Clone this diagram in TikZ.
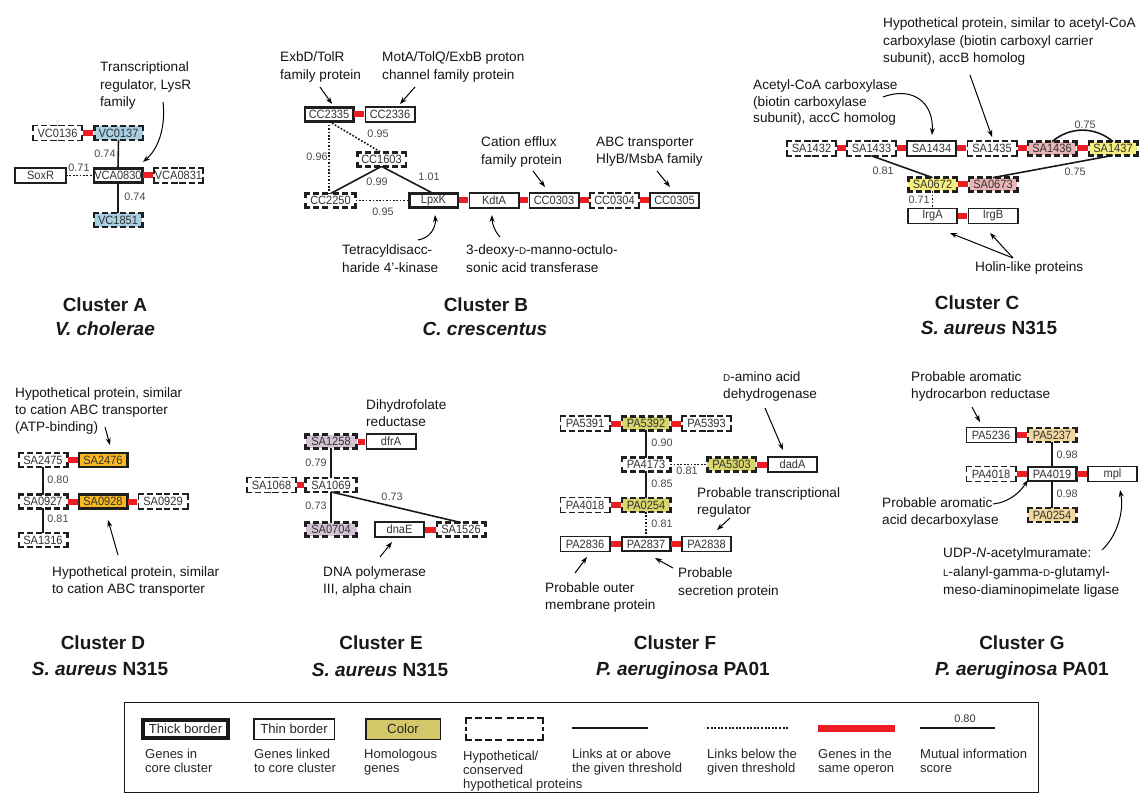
\documentclass[tikz,border=0pt]{standalone}
\usepackage{fontspec}
\setmainfont{Liberation Sans}
\newfontfamily\condf{Liberation Sans}[FakeStretch=0.92]
\usetikzlibrary{arrows.meta,calc}
\definecolor{opred}{HTML}{EE1C25}
\definecolor{cblue}{HTML}{A8CFE2}
\definecolor{cpink}{HTML}{E8B4B6}
\definecolor{cyel}{HTML}{F6EE7E}
\definecolor{corange}{HTML}{F8B820}
\definecolor{clilac}{HTML}{D5C2D3}
\definecolor{colive}{HTML}{D8D66C}
\definecolor{ctan}{HTML}{F2D7A0}
\definecolor{clegend}{HTML}{D5C86A}
\definecolor{txtgray}{HTML}{333333}
\newcommand\fsc[1]{{\fontsize{9.8}{10}\selectfont #1}}
\newcommand\hypsides[2]{%
  \draw[#2] (#1.north west) -- (#1.north) (#1.north east) -- (#1.north)
    (#1.south west) -- (#1.south) (#1.south east) -- (#1.south)
    (#1.north west) -- (#1.west) (#1.south west) -- (#1.west)
    (#1.north east) -- (#1.east) (#1.south east) -- (#1.east);}
\newcommand\hk[1]{\hypsides{#1}{hypkline}}
\newcommand\hn[1]{\hypsides{#1}{hypnline}}
\begin{document}
\begin{tikzpicture}[x=1pt,y=-1pt,
  gene/.style={rectangle, inner sep=0pt, outer sep=0pt, font=\condf\fontsize{12}{13}\selectfont, text=txtgray},
  core/.style={gene, draw=black!88, line width=2.5pt, minimum width=48.5pt, minimum height=13.8pt},
  lnk/.style={gene, draw=black!88, line width=1.6pt, minimum width=49.4pt, minimum height=14.7pt},
  hypk/.style={gene, minimum width=48.5pt, minimum height=13.8pt},
  hypn/.style={gene, minimum width=49.4pt, minimum height=14.7pt},
  hypkline/.style={draw=black!88, line width=2.5pt, line cap=rect, dash pattern=on 3.5pt off 5.5pt},
  hypnline/.style={draw=black!88, line width=1.6pt, line cap=rect, dash pattern=on 4.6pt off 4.6pt},
  opbar/.style={draw=opred, line width=6pt, shorten <=1.2pt, shorten >=1.2pt},
  mival/.style={draw=black!90, line width=1.6pt},
  weakval/.style={draw=black!90, line width=1.6pt, dash pattern=on 1.7pt off 1.7pt},
  score/.style={font=\fontsize{10.8}{11}\selectfont, text=black!72, inner sep=0pt},
  annot/.style={font=\fontsize{13.6}{17.5}\selectfont, align=left, anchor=north west, inner sep=0pt, text=black!92},
  tarrow/.style={-{Stealth[length=7pt,width=5pt]}, line width=1pt},
  ctitle/.style={font=\bfseries\fontsize{19}{20}\selectfont, anchor=base, inner sep=0pt, text=black!90},
  legtxt/.style={font=\fontsize{13}{14}\selectfont, align=left, anchor=north west, inner sep=0pt, text=black!85},
  legbox/.style={rectangle, inner sep=0pt, font=\fontsize{13.2}{14}\selectfont, text=black!85}
]
\useasboundingbox (0,0) rectangle (1140,794);

% ===================== Cluster A
\node[hypn] (VC0136) at (57.5,133) {VC0136};
\node[hypk, fill=cblue] (VC0137) at (118.5,133) {VC0137};
\node[lnk, minimum width=51pt] (SoxR) at (40.5,175.5) {SoxR};
\node[core] (VCA0830) at (118,175.5) {VCA0830};
\node[hypn] (VCA0831) at (178.5,175.5) {VCA0831};
\node[hypk, fill=cblue] (VC1851) at (118,220) {VC1851};
\hn{VC0136}\hk{VC0137}\hn{VCA0831}\hk{VC1851}
\draw[opbar] (VC0136) -- (VC0137);
\draw[opbar] (VCA0830) -- (VCA0831);
\draw[mival] (VC0137.south) -- (VCA0830.north);
\draw[weakval] (SoxR) -- (VCA0830);
\draw[mival] (VCA0830.south) -- (VC1851.north);
\node[score] (sA1) at (105,154) {0.74};
\node[score] (sA2) at (79,168) {0.71};
\node[score] (sA3) at (135,197) {0.74};
\node[annot] (annA) at (100,61.5) {Transcriptional\\regulator, LysR\\family};
\coordinate (aA1) at (163,102); \coordinate (aA2) at (143,162);
\draw[tarrow] (aA1) .. controls (166,130) and (157,150) .. (aA2);
\node[ctitle] (tA1) at (105,311) {Cluster A};
\node[ctitle] (tA2) at (105,335) {\itshape V. cholerae};

% ===================== Cluster B
\node[core] (CC2335) at (329,114.5) {CC2335};
\node[lnk] (CC2336) at (390,114.5) {CC2336};
\node[hypk] (CC1603) at (381.5,159.5) {CC1603};
\node[hypk, minimum width=50pt] (CC2250) at (330.5,200.5) {CC2250};
\node[core] (LpxK) at (433.5,200.5) {LpxK};
\node[lnk] (KdtA) at (494,200.5) {KdtA};
\node[lnk] (CC0303) at (554,200.5) {CC0303};
\node[hypn] (CC0304) at (614.5,200.5) {CC0304};
\node[lnk] (CC0305) at (674.5,200.5) {CC0305};
\hk{CC1603}\hk{CC2250}\hn{CC0304}
\draw[opbar] (CC2335) -- (CC2336);
\draw[opbar] (LpxK) -- (KdtA);
\draw[opbar] (KdtA) -- (CC0303);
\draw[opbar] (CC0303) -- (CC0304);
\draw[opbar] (CC0304) -- (CC0305);
\draw[weakval] (CC2335.south) -- (CC2335.south |- CC2250.north);
\draw[weakval] (CC2335.south) -- (CC1603.north);
\draw[mival] (CC1603.south) -- (CC2250.north);
\draw[mival] (CC1603.south) -- (LpxK.north);
\draw[weakval] (CC2250) -- (LpxK);
\node[score] (sB1) at (317,157) {0.96};
\node[score] (sB2) at (378,134) {0.95};
\node[score] (sB3) at (377,182) {0.99};
\node[score] (sB4) at (429,177) {1.01};
\node[score] (sB5) at (383,212) {0.95};
\node[annot] (annB1) at (280,51.5) {ExbD/TolR\\family protein};
\node[annot] (annB2) at (382,51.5) {MotA/TolQ/ExbB proton\\channel family protein};
\node[annot] (annB3) at (481,136.5) {Cation efflux\\family protein};
\node[annot] (annB4) at (596,136.5) {ABC transporter\\HlyB/MsbA family};
\node[annot] (annB5) at (342,244.5) {Tetracyldisacc-\\haride 4'-kinase};
\node[annot] (annB6) at (466,244.5) {3-deoxy-\fsc{D}-manno-octulo-\\sonic acid transferase};
\coordinate (aB1a) at (320,87); \coordinate (aB1b) at (332,104);
\coordinate (aB2a) at (415,87); \coordinate (aB2b) at (400,104);
\coordinate (aB3a) at (533,171); \coordinate (aB3b) at (545,187);
\coordinate (aB4a) at (657,171); \coordinate (aB4b) at (670,187);
\coordinate (aB5a) at (418,240); \coordinate (aB5b) at (435,215);
\coordinate (aB6a) at (500,237); \coordinate (aB6b) at (492,215);
\draw[tarrow] (aB1a) -- (aB1b);
\draw[tarrow] (aB2a) -- (aB2b);
\draw[tarrow] (aB3a) -- (aB3b);
\draw[tarrow] (aB4a) -- (aB4b);
\draw[tarrow] (aB5a) .. controls (430,238) and (436,228) .. (aB5b);
\draw[tarrow] (aB6a) .. controls (495,232) and (492,223) .. (aB6b);
\node[ctitle] (tB1) at (486,311) {Cluster B};
\node[ctitle] (tB2) at (485,335) {\itshape C. crescentus};

% ===================== Cluster C
\node[hypn] (SA1432) at (811.5,148.5) {SA1432};
\node[hypn] (SA1433) at (871.5,148.5) {SA1433};
\node[lnk] (SA1434) at (931.5,148.5) {SA1434};
\node[hypn] (SA1435) at (992,148.5) {SA1435};
\node[hypk, fill=cpink] (SA1436) at (1052,148.5) {SA1436};
\node[hypk, fill=cyel] (SA1437) at (1113,148.5) {SA1437};
\node[hypk, fill=cyel] (SA0672) at (932.5,184.5) {SA0672};
\node[hypk, fill=cpink] (SA0673) at (993,184.5) {SA0673};
\node[lnk] (IrgA) at (932.5,216) {IrgA};
\node[lnk] (IrgB) at (993,216) {IrgB};
\hn{SA1432}\hn{SA1433}\hn{SA1435}\hk{SA1436}\hk{SA1437}\hk{SA0672}\hk{SA0673}
\draw[opbar] (SA1432) -- (SA1433);
\draw[opbar] (SA1433) -- (SA1434);
\draw[opbar] (SA1434) -- (SA1435);
\draw[opbar] (SA1435) -- (SA1436);
\draw[opbar] (SA1436) -- (SA1437);
\draw[opbar] (SA0672) -- (SA0673);
\draw[opbar] (IrgA) -- (IrgB);
\draw[mival] (SA1433.south) -- (SA0672.north);
\draw[mival] (SA1437.south) -- (SA0673.north);
\draw[mival] (SA1436.north) to[bend left=40] (SA1437.north);
\draw[weakval] (SA0672.south) -- (IrgA.north);
\node[score] (sC1) at (1085,125) {0.75};
\node[score] (sC2) at (883,171) {0.81};
\node[score] (sC3) at (1075,172) {0.75};
\node[score] (sC4) at (919,200) {0.71};
\node[annot] (annC1) at (883,17.5) {Hypothetical protein, similar to acetyl-CoA\\carboxylase (biotin carboxyl carrier\\subunit), accB homolog};
\node[annot, font=\fontsize{13.6}{16.5}\selectfont] (annC2) at (753,79.5) {Acetyl-CoA carboxylase\\(biotin carboxylase\\subunit), accC homolog};
\node[annot] (annC3) at (975,261.5) {Holin-like proteins};
\coordinate (aC1a) at (970,75); \coordinate (aC1b) at (992,137);
\coordinate (aC2a) at (883,97); \coordinate (aC2b) at (932,135);
\coordinate (aC3a) at (1013,258); \coordinate (aC3b) at (950,233); \coordinate (aC3c) at (990,233);
\draw[tarrow] (aC1a) -- (aC1b);
\draw[tarrow] (aC2a) .. controls (912,86) and (934,102) .. (aC2b);
\draw[tarrow] (aC3a) -- (aC3b);
\draw[tarrow] (aC3a) -- (aC3c);
\node[ctitle] (tC1) at (977,309) {Cluster C};
\node[ctitle] (tC2) at (989,334) {\itshape S. aureus\upshape\ N315};

% ===================== Cluster D
\node[hypk] (SA2475) at (43,460) {SA2475};
\node[core, fill=corange] (SA2476) at (103,460) {SA2476};
\node[hypk] (SA0927) at (43,501.5) {SA0927};
\node[core, fill=corange] (SA0928) at (103,501.5) {SA0928};
\node[hypn] (SA0929) at (163,501.5) {SA0929};
\node[hypk] (SA1316) at (43,540) {SA1316};
\hk{SA2475}\hk{SA0927}\hn{SA0929}\hk{SA1316}
\draw[opbar] (SA2475) -- (SA2476);
\draw[opbar] (SA0927) -- (SA0928);
\draw[opbar] (SA0928) -- (SA0929);
\draw[mival] (SA2475.south) -- (SA0927.north);
\draw[mival] (SA0927.south) -- (SA1316.north);
\node[score] (sD1) at (58,480) {0.80};
\node[score] (sD2) at (58,519) {0.81};
\node[annot, font=\fontsize{13.6}{17}\selectfont] (annD1) at (15,387.5) {Hypothetical protein, similar\\to cation ABC transporter\\(ATP-binding)};
\node[annot, font=\fontsize{13.6}{16.5}\selectfont] (annD2) at (52,566.5) {Hypothetical protein, similar\\to cation ABC transporter};
\coordinate (aD1a) at (105,427); \coordinate (aD1b) at (110,445);
\coordinate (aD2a) at (118,555); \coordinate (aD2b) at (108,520);
\draw[tarrow] (aD1a) -- (aD1b);
\draw[tarrow] (aD2a) -- (aD2b);
\node[ctitle] (tD1) at (103,649) {Cluster D};
\node[ctitle] (tD2) at (100,675) {\itshape S. aureus\upshape\ N315};

% ===================== Cluster E
\node[hypk, fill=clilac, minimum width=51pt] (SA1258) at (331,441.5) {SA1258};
\node[lnk] (dfrA) at (391,441.5) {dfrA};
\node[hypn] (SA1068) at (271.5,485) {SA1068};
\node[hypk, minimum width=51pt] (SA1069) at (331,485) {SA1069};
\node[hypk, fill=clilac, minimum width=51pt] (SA0704) at (331,529.5) {SA0704};
\node[lnk] (dnaE) at (399.5,529.5) {dnaE};
\node[hypk] (SA1526) at (461,529.5) {SA1526};
\hk{SA1258}\hn{SA1068}\hk{SA1069}\hk{SA0704}\hk{SA1526}
\draw[opbar] (SA1258) -- (dfrA);
\draw[opbar] (SA1068) -- (SA1069);
\draw[opbar] (dnaE) -- (SA1526);
\draw[mival] (SA1258.south) -- (SA1069.north);
\draw[mival] (SA1069.south) -- (SA0704.north);
\draw[mival] (SA1069.south) -- (SA1526.north);
\node[score] (sE1) at (316,463) {0.79};
\node[score] (sE2) at (316,506) {0.73};
\node[score] (sE3) at (392,497) {0.73};
\node[annot, font=\fontsize{13.6}{17}\selectfont] (annE1) at (366,399.5) {Dihydrofolate\\reductase};
\node[annot, font=\fontsize{13.6}{16.5}\selectfont] (annE2) at (323,566.5) {DNA polymerase\\III, alpha chain};
\coordinate (aE1a) at (380,557); \coordinate (aE1b) at (392,542);
\draw[tarrow] (aE1a) -- (aE1b);
\node[ctitle] (tE1) at (381,649) {Cluster E};
\node[ctitle] (tE2) at (380,676) {\itshape S. aureus\upshape\ N315};

% ===================== Cluster F
\node[hypn] (PA5391) at (585,423.5) {PA5391};
\node[hypk, fill=colive] (PA5392) at (646,423.5) {PA5392};
\node[hypn] (PA5393) at (706.5,423.5) {PA5393};
\node[hypk] (PA4173) at (646,464.5) {PA4173};
\node[hypk, fill=colive] (PA5303) at (731.5,464.5) {PA5303};
\node[lnk] (dadA) at (792.5,464.5) {dadA};
\node[hypn] (fPA4018) at (585,505) {PA4018};
\node[hypk, fill=colive] (fPA0254) at (646,505) {PA0254};
\node[lnk] (PA2836) at (585,544) {PA2836};
\node[core] (PA2837) at (646,544) {PA2837};
\node[lnk] (PA2838) at (706.5,544) {PA2838};
\hn{PA5391}\hk{PA5392}\hn{PA5393}\hk{PA4173}\hk{PA5303}\hn{fPA4018}\hk{fPA0254}
\draw[opbar] (PA5391) -- (PA5392);
\draw[opbar] (PA5392) -- (PA5393);
\draw[opbar] (PA5303) -- (dadA);
\draw[opbar] (fPA4018) -- (fPA0254);
\draw[opbar] (PA2836) -- (PA2837);
\draw[opbar] (PA2837) -- (PA2838);
\draw[mival] (PA5392.south) -- (PA4173.north);
\draw[weakval] (PA4173) -- (PA5303);
\draw[mival] (PA4173.south) -- (fPA0254.north);
\draw[weakval] (fPA0254.south) -- (PA2837.north);
\node[score] (sF1) at (662,443) {0.90};
\node[score] (sF2) at (687,471) {0.81};
\node[score] (sF3) at (662,484) {0.85};
\node[score] (sF4) at (662,524) {0.81};
\node[annot, font=\fontsize{13.6}{17}\selectfont] (annF1) at (723,371.5) {\fsc{D}-amino acid\\dehydrogenase};
\node[annot, font=\fontsize{13.6}{17}\selectfont] (annF2) at (697,487.5) {Probable transcriptional\\regulator};
\node[annot, font=\fontsize{13.6}{17}\selectfont] (annF3) at (545,582.5) {Probable outer\\membrane protein};
\node[annot, font=\fontsize{13.6}{17.5}\selectfont] (annF4) at (678,567.5) {Probable\\secretion protein};
\coordinate (aF1a) at (765,408); \coordinate (aF1b) at (783,450);
\coordinate (aF2a) at (730,518); \coordinate (aF2b) at (717,530);
\coordinate (aF3a) at (575,573); \coordinate (aF3b) at (587,557);
\coordinate (aF4a) at (673,568); \coordinate (aF4b) at (655,558);
\draw[tarrow] (aF1a) -- (aF1b);
\draw[tarrow] (aF2a) -- (aF2b);
\draw[tarrow] (aF3a) -- (aF3b);
\draw[tarrow] (aF4a) -- (aF4b);
\node[ctitle] (tF1) at (675,649) {Cluster F};
\node[ctitle] (tF2) at (683,675) {\itshape P. aeruginosa\upshape\ PA01};

% ===================== Cluster G
\node[lnk] (PA5236) at (991,435) {PA5236};
\node[hypk, fill=ctan] (PA5237) at (1052,435) {PA5237};
\node[hypn] (gPA4018) at (991,474) {PA4018};
\node[core] (PA4019) at (1052,474) {PA4019};
\node[lnk] (mpl) at (1112.5,474) {mpl};
\node[hypk, fill=ctan] (gPA0254) at (1052,515) {PA0254};
\hk{PA5237}\hn{gPA4018}\hk{gPA0254}
\draw[opbar] (PA5236) -- (PA5237);
\draw[opbar] (gPA4018) -- (PA4019);
\draw[opbar] (PA4019) -- (mpl);
\draw[mival] (PA5237.south) -- (PA4019.north);
\draw[mival] (PA4019.south) -- (gPA0254.north);
\node[score] (sG1) at (1067,455) {0.98};
\node[score] (sG2) at (1067,494) {0.98};
\node[annot, font=\fontsize{13.6}{17}\selectfont] (annG1) at (911,371.5) {Probable aromatic\\hydrocarbon reductase};
\node[annot, font=\fontsize{13.6}{17}\selectfont] (annG2) at (882,497.5) {Probable aromatic\\acid decarboxylase};
\node[annot, font=\fontsize{13.6}{18.5}\selectfont] (annG3) at (943,547.5) {UDP-\textit{N}-acetylmuramate:\\\fsc{L}-alanyl-gamma-\fsc{D}-glutamyl-\\meso-diaminopimelate ligase};
\coordinate (aG1a) at (972,407); \coordinate (aG1b) at (980,422);
\coordinate (aG2a) at (993,504); \coordinate (aG2b) at (1028,480);
\coordinate (aG3a) at (1102,550); \coordinate (aG3b) at (1120,490);
\draw[tarrow] (aG1a) -- (aG1b);
\draw[tarrow] (aG2a) .. controls (1010,502) and (1020,492) .. (aG2b);
\draw[tarrow] (aG3a) .. controls (1118,535) and (1124,510) .. (aG3b);
\node[ctitle] (tG1) at (1022,649) {Cluster G};
\node[ctitle] (tG2) at (1022,675) {\itshape P. aeruginosa\upshape\ PA01};

% ===================== Legend
\node[draw=black!90, line width=1.3pt, minimum width=913.7pt, minimum height=90pt, inner sep=0pt] (legframe) at (581.5,747.5) {};
\node[legbox, draw=black!90, line width=4pt, minimum width=85pt, minimum height=18pt] (lg1) at (185.5,729) {Thick border};
\node[legbox, draw=black!90, line width=1.5pt, minimum width=80.5pt, minimum height=20.5pt] (lg2) at (294,729) {Thin border};
\node[legbox, draw=black!90, fill=clegend, line width=1.5pt, minimum width=74.5pt, minimum height=20.5pt] (lg3) at (403,729) {Color};
\node[legbox, minimum width=77pt, minimum height=22pt] (lg4) at (504.5,729) {};
\hypsides{lg4}{draw=black!90, line width=2pt, line cap=rect, dash pattern=on 5pt off 5pt}
\coordinate (l5a) at (572,728); \coordinate (l5b) at (648,728);
\coordinate (l6a) at (707,728); \coordinate (l6b) at (788,728);
\coordinate (l7a) at (818,728.5); \coordinate (l7b) at (895,728.5);
\coordinate (l8a) at (920,728); \coordinate (l8b) at (995,728);
\draw[draw=black!90, line width=2.2pt] (l5a) -- (l5b);
\draw[draw=black!90, line width=2.2pt, dash pattern=on 2pt off 1.6pt] (l6a) -- (l6b);
\draw[draw=opred, line width=7pt] (l7a) -- (l7b);
\draw[draw=black!90, line width=2.2pt] (l8a) -- (l8b);
\node[font=\fontsize{11}{12}\selectfont, text=black!80, inner sep=0pt] (lg8s) at (965,719) {0.80};
\node[legtxt] (lt1) at (145,749) {Genes in\\core cluster};
\node[legtxt] (lt2) at (254,749) {Genes linked\\to core cluster};
\node[legtxt] (lt3) at (364,749) {Homologous\\genes};
\node[legtxt] (lt4) at (463,751) {Hypothetical/\\conserved\\hypothetical proteins};
\node[legtxt] (lt5) at (572,749) {Links at or above\\the given threshold};
\node[legtxt] (lt6) at (707,749) {Links below the\\given threshold};
\node[legtxt] (lt7) at (818,749) {Genes in the\\same operon};
\node[legtxt] (lt8) at (920,749) {Mutual information\\score};
\end{tikzpicture}
\end{document}
